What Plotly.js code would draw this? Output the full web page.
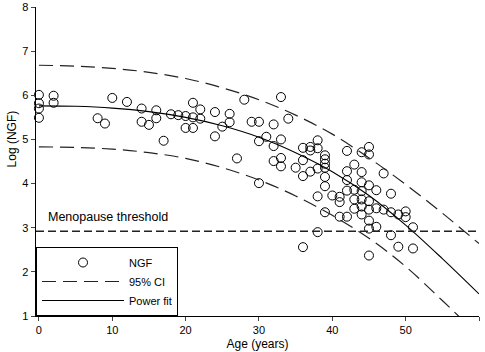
<!DOCTYPE html>
<html>
<head>
<meta charset="utf-8">
<script src="https://cdn.plot.ly/plotly-3.0.1.min.js"></script>
<style>html,body{margin:0;padding:0;background:#fff;}#chart{width:485px;height:352px;}</style>
</head>
<body>
<div id="chart"></div>
<script>
// Observed NGF values (age in years, log NGF)
const ageNGF = [
  0,0,0,0, 2,2, 8, 9, 10, 12, 14,14, 15, 16,16, 17, 18, 19, 20,20, 21,21,21, 22,22,
  24,24, 25, 26,26, 27, 28, 29, 30,30,30, 31, 32,32,32, 33,33,33,33, 34, 35,
  36,36,36,36, 37,37,37, 38,38,38,38,38, 39,39,39,39,39,39,39, 40, 41,41,41,
  42,42,42,42,42, 43,43,43,43, 44,44,44,44,44,44,44, 45,45,45,45,45,45,45,45,
  46,46,46, 47,47, 48,48,48, 49,49, 50,50, 51,51
];
const logNGF = [
  6.01,5.82,5.70,5.49, 5.99,5.83, 5.48, 5.36, 5.94, 5.85, 5.70,5.40, 5.33, 5.66,5.48, 4.97, 5.57, 5.55, 5.53,5.26, 5.83,5.50,5.26, 5.68,5.47,
  5.62,5.07, 5.29, 5.58,5.39, 4.57, 5.90, 5.40, 5.40,4.96,4.01, 5.06, 5.34,4.85,4.51, 5.96,5.00,4.58,4.39, 5.47, 4.36,
  4.81,4.53,4.17,2.56, 4.83,4.75,4.27, 4.98,4.80,4.34,3.71,2.90, 4.64,4.55,4.45,4.36,4.15,3.94,3.35, 3.73, 3.70,3.58,3.25,
  4.74,4.28,4.08,3.84,3.25, 4.43,3.86,3.64,3.43, 4.71,4.26,4.03,3.83,3.64,3.48,3.30, 4.83,4.66,3.96,3.60,3.41,3.16,2.98,2.37,
  3.85,3.44,3.02, 4.23,3.41, 3.77,3.35,2.83, 3.30,2.57, 3.37,3.24, 3.01,2.53
];
// Curves
const curveAge = [0, 5, 10, 15, 20, 25, 30, 35, 40, 45, 50, 55, 60];
const powerFit = [5.76, 5.75, 5.71, 5.63, 5.50, 5.31, 5.05, 4.70, 4.27, 3.73, 3.06, 2.30, 1.50];
const ciUpper  = [6.68, 6.66, 6.61, 6.52, 6.38, 6.17, 5.90, 5.55, 5.12, 4.58, 3.98, 3.33, 2.64];
const ciLower  = [4.83, 4.82, 4.78, 4.70, 4.57, 4.36, 4.08, 3.72, 3.28, 2.76, 2.12, 1.35, 0.55];
const menopauseThreshold = 2.92;
const xTicks = [0, 10, 20, 30, 40, 50, 60];
const yTicks = [1, 2, 3, 4, 5, 6, 7, 8];

const fam = 'Liberation Sans, Arial, sans-serif';
const font = {family: fam, size: 11, color: '#000'};
const titleFont = {family: fam, size: 12, color: '#000'};

const traces = [
  {x: ageNGF, y: logNGF, type: 'scatter', mode: 'markers', name: 'NGF',
   marker: {symbol: 'circle-open', size: 9, color: '#000', line: {width: 1, color: '#000'}}, cliponaxis: false},
  {x: curveAge, y: ciUpper, type: 'scatter', mode: 'lines', name: '95% CI', legendgroup: 'ci',
   line: {color: '#222', width: 1.2, dash: '14px,7px', shape: 'spline'}},
  {x: curveAge, y: ciLower, type: 'scatter', mode: 'lines', name: '95% CI', legendgroup: 'ci', showlegend: false,
   line: {color: '#222', width: 1.2, dash: '14px,7px', shape: 'spline'}},
  {x: curveAge, y: powerFit, type: 'scatter', mode: 'lines', name: 'Power fit',
   line: {color: '#000', width: 1.1, shape: 'spline'}}
];

const layout = {
  width: 485, height: 352,
  margin: {l: 36, r: 6, t: 7, b: 36},
  paper_bgcolor: '#fff', plot_bgcolor: '#fff',
  font: font,
  showlegend: true,
  legend: {x: 0, y: 0, xanchor: 'left', yanchor: 'bottom', bordercolor: '#000', borderwidth: 1,
           bgcolor: '#fff', font: font, itemwidth: 82, tracegroupgap: 0},
  xaxis: {range: [-0.4, 60], tickvals: xTicks, ticktext: xTicks.map(String), ticks: 'outside', ticklen: 4,
          showline: true, linecolor: '#000', linewidth: 1.2, showgrid: false, zeroline: false,
          title: {text: 'Age (years)', font: titleFont, standoff: 4}, tickfont: font},
  yaxis: {range: [1, 8], tickvals: yTicks, ticktext: yTicks.map(String), ticks: 'outside', ticklen: 4,
          showline: true, linecolor: '#000', linewidth: 1.5, showgrid: false, zeroline: false,
          tickfont: font},
  shapes: [
    {type: 'line', xref: 'paper', x0: 0, x1: 1, yref: 'y', y0: menopauseThreshold, y1: menopauseThreshold,
     line: {color: '#222', width: 1.6, dash: '8px,4px'}}
  ],
  annotations: [
    {x: 1, y: menopauseThreshold, xref: 'x', yref: 'y', text: 'Menopause threshold', showarrow: false,
     xanchor: 'left', yanchor: 'bottom', yshift: 5, font: {family: fam, size: 12.5, color: '#000'}},
    {x: 0, y: 5.0, xref: 'paper', yref: 'y', text: 'Log (NGF)', showarrow: false, textangle: -90,
     xanchor: 'center', yanchor: 'middle', xshift: -24, font: titleFont}
  ]
};

Plotly.newPlot('chart', traces, layout, {displayModeBar: false, staticPlot: true});
</script>
</body>
</html>
